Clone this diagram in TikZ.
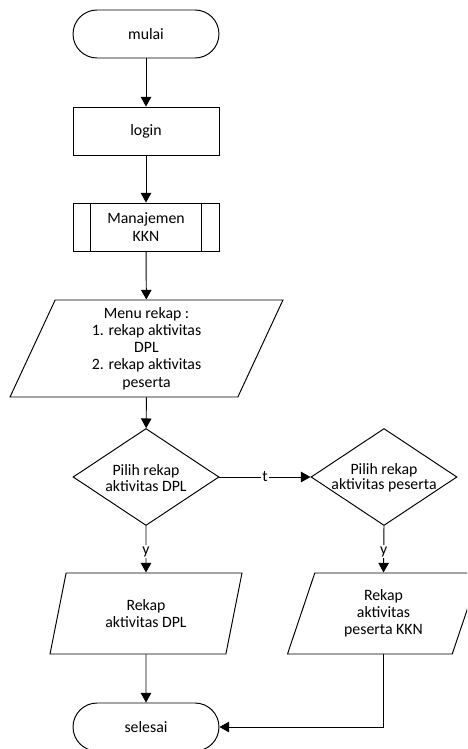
\documentclass[tikz,border=0pt]{standalone}
\usepackage{fontspec}
\setmainfont{Carlito}
\usetikzlibrary{shapes.geometric,arrows.meta,calc}
\begin{document}
\begin{tikzpicture}[x=0.02cm,y=-0.02cm,
  line width=0.55pt,
  font=\fontsize{9}{9.8}\selectfont,
  every node/.style={align=center},
  term/.style={draw, rectangle, rounded corners=0.48cm, minimum width=2.92cm, minimum height=0.96cm, inner sep=0pt},
  proc/.style={draw, rectangle, minimum width=2.92cm, minimum height=0.96cm, inner sep=0pt},
  iobox/.style={draw, trapezium, trapezium stretches body, inner sep=0pt},
  decision/.style={draw, diamond, minimum width=2.92cm, minimum height=1.94cm, inner sep=0pt},
  flow/.style={-{Triangle[width=6pt,length=5.5pt]}},
  tag/.style={fill=white, inner sep=1pt, font=\fontsize{9}{9}\selectfont}
]
\useasboundingbox (0,0) rectangle (467,749);
\clip (0,0) rectangle (467,749);

% main column
\node[term] (mulai) at (146,34) {mulai};
\node[proc] (login) at (146,131) {login};
\node[proc] (kkn) at (146,227) {Manajemen\\KKN};
\draw ($(kkn.north west)+(18,0)$) -- ($(kkn.south west)+(18,0)$);
\draw ($(kkn.north east)+(-18,0)$) -- ($(kkn.south east)+(-18,0)$);
\node[iobox, trapezium left angle=61.3, trapezium right angle=118.7,
      minimum width=5.46cm, minimum height=1.94cm] (menu) at (146.5,348.5)
      {Menu rekap :\\1. rekap aktivitas\\DPL\\2. rekap aktivitas\\peserta};

% decisions
\node[decision] (pdpl) at (146,477) {};
\node[font=\fontsize{9}{8.7}\selectfont] (pdplt) at (146,478) {Pilih rekap\\aktivitas DPL};
\node[decision] (ppes) at (384,477) {};
\node[font=\fontsize{9}{8.7}\selectfont] (ppest) at (384,478) {Pilih rekap\\aktivitas peserta};

% outputs
\node[iobox, trapezium left angle=60.4, trapezium right angle=119.6,
      minimum width=3.84cm, minimum height=1.62cm] (rdpl) at (146,613.5)
      {Rekap\\aktivitas DPL};
\node[iobox, trapezium left angle=60.4, trapezium right angle=119.6,
      minimum width=3.84cm, minimum height=1.62cm] (rpes) at (383.5,613.5)
      {Rekap\\aktivitas\\peserta KKN};

\node[term] (selesai) at (146,727) {selesai};

% connectors
\draw[flow] (mulai) -- (login);
\draw[flow] (login) -- (kkn);
\draw[flow] (kkn) -- (menu);
\draw[flow] (menu) -- (pdpl);
\draw[flow] (pdpl.east) -- node[tag] {t} (ppes.west);
\draw[flow] (pdpl.south) -- node[tag, pos=0.55] {y} (rdpl.north);
\draw[flow] (ppes.south) -- node[tag, pos=0.55] {y} (rpes.north);
\draw[flow] (rdpl.south) -- (selesai.north);
\draw[flow] (rpes.south) |- (selesai.east);
\end{tikzpicture}
\end{document}
